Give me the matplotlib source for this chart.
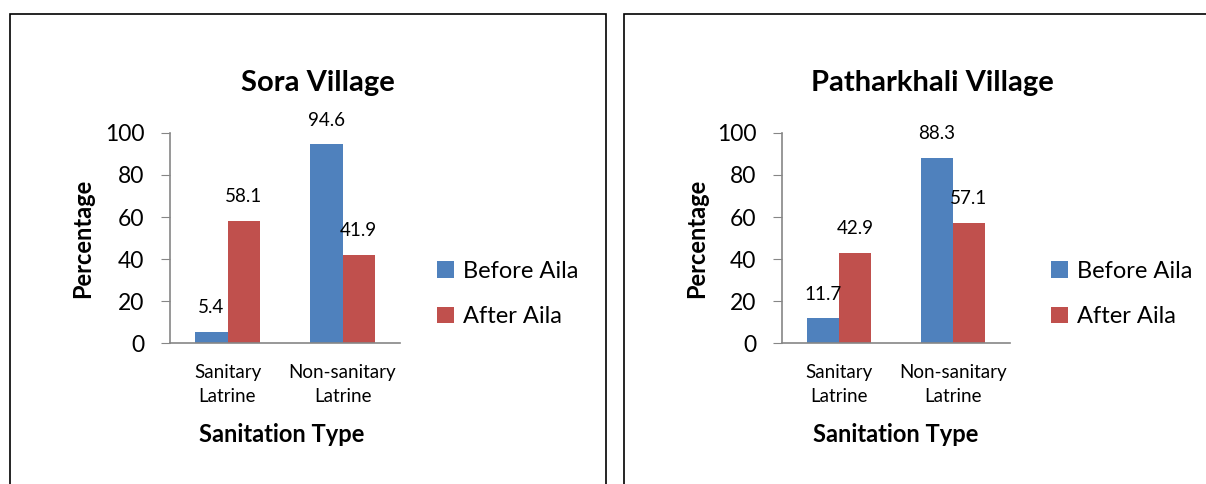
import matplotlib
matplotlib.use("Agg")
import matplotlib.pyplot as plt
from matplotlib.patches import Rectangle
import numpy as np

plt.rcParams['font.family'] = ['Lato', 'DejaVu Sans']

categories = ["Sanitary\nLatrine", "Non-sanitary\nLatrine"]
series_names = ["Before Aila", "After Aila"]
sora_before = [5.4, 94.6]
sora_after = [58.1, 41.9]
path_before = [11.7, 88.3]
path_after = [42.9, 57.1]
titles = ["Sora Village", "Patharkhali Village"]
yticks = [0, 20, 40, 60, 80, 100]

BLUE = "#4F81BD"
RED = "#C0504D"
AX = "#868686"

W, H = 1206, 484
fig = plt.figure(figsize=(W / 100, H / 100), dpi=100)

def fx(px):
    return px / W

def fy(py):
    return 1 - py / H

# panel borders
fig.patches.append(Rectangle((fx(10), fy(500)), fx(596), fy(14) - fy(500),
                             transform=fig.transFigure, fill=False, edgecolor="black", lw=1.2))
fig.patches.append(Rectangle((fx(624), fy(500)), fx(620), fy(14) - fy(500),
                             transform=fig.transFigure, fill=False, edgecolor="black", lw=1.2))

panels = [
    dict(left=170, right=400, before=sora_before, after=sora_after, title=titles[0],
         tx=318, ylx=83, xlx=282, legx=437),
    dict(left=782, right=1010, before=path_before, after=path_after, title=titles[1],
         tx=932, ylx=697, xlx=896, legx=1051),
]

x = np.arange(len(categories))
bw = 0.28
for p in panels:
    ax = fig.add_axes([fx(p['left']), fy(343), fx(p['right'] - p['left']), fy(133) - fy(343)])
    b1 = ax.bar(x - bw / 2, p['before'], bw, color=BLUE, label=series_names[0])
    b2 = ax.bar(x + bw / 2, p['after'], bw, color=RED, label=series_names[1])
    for bars in (b1, b2):
        for r in bars:
            ax.annotate(f"{r.get_height():.1f}", (r.get_x() + r.get_width() / 2, r.get_height()),
                        xytext=(0, 17.5), textcoords="offset points", ha="center", va="center",
                        fontsize=13.5)
    ax.set_xlim(-0.5, 1.5)
    ax.set_ylim(0, 100)
    ax.set_yticks(yticks)
    ax.tick_params(axis='y', labelsize=16.5, length=6.5, color=AX, pad=12)
    ax.set_xticks(x)
    ax.set_xticklabels(categories, fontsize=13.5, linespacing=1.5)
    ax.tick_params(axis='x', length=0, pad=15)
    for s in ("top", "right"):
        ax.spines[s].set_visible(False)
    for s in ("left", "bottom"):
        ax.spines[s].set_color(AX)
        ax.spines[s].set_linewidth(1.2)
    ax.spines['bottom'].set_zorder(3)
    fig.text(fx(p['tx']), fy(83), p['title'], ha="center", va="center",
             fontsize=21, fontweight="bold")
    fig.text(fx(p['ylx']), fy(238), "Percentage", ha="center", va="center",
             rotation=90, fontsize=17, fontweight="bold")
    fig.text(fx(p['xlx']), fy(435), "Sanitation Type", ha="center", va="center",
             fontsize=17, fontweight="bold")
    ax.legend(loc="center left", bbox_to_anchor=(fx(p['legx']), fy(294)),
              bbox_transform=fig.transFigure, frameon=False, fontsize=17,
              handlelength=0.7, handleheight=0.7, handletextpad=0.4, labelspacing=1.05,
              borderaxespad=0, borderpad=0)

fig.savefig("out.png", dpi=100)
